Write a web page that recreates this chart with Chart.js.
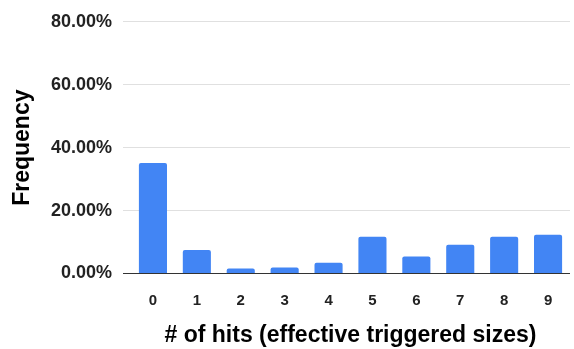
<!DOCTYPE html>
<html>
<head>
<meta charset="utf-8">
<script src="https://cdn.jsdelivr.net/npm/chart.js@4.4.1/dist/chart.umd.min.js"></script>
<style>
	html, body { margin: 0; padding: 0; background: #fff; }
	#wrap { width: 574px; height: 349px; }
</style>
</head>
<body>
<div id="wrap"><canvas id="chart" width="574" height="349"></canvas></div>
<script>
'use strict';

// hit counts on the x axis
var hitCounts = ['0', '1', '2', '3', '4', '5', '6', '7', '8', '9'];
// share of runs per hit count
var frequency = [0.351, 0.075, 0.016, 0.019, 0.034, 0.117, 0.054, 0.091, 0.117, 0.123];
// y axis ticks
var yTicks = [0, 0.2, 0.4, 0.6, 0.8];

var FONT = '"Liberation Sans", Arial, sans-serif',
	BAR = '#4285f4',
	GRID = '#e0e0e0',
	BASE = '#333333';

new Chart(document.getElementById('chart'), {
	type: 'bar',
	data: {
		labels: hitCounts,
		datasets: [{
			data: frequency,
			backgroundColor: BAR,
			borderRadius: 2,
			borderSkipped: 'bottom',
			barPercentage: 0.64,
			categoryPercentage: 1
		}]
	},
	options: {
		responsive: false,
		animation: false,
		layout: {
			padding: { top: 17, right: 4, bottom: 0, left: 0 }
		},
		plugins: {
			legend: { display: false },
			tooltip: { enabled: false }
		},
		scales: {
			x: {
				grid: { display: false },
				border: { display: false },
				ticks: {
					color: '#222',
					padding: 10,
					font: { family: FONT, size: 15, weight: 'bold' }
				},
				title: {
					display: true,
					text: '# of hits (effective triggered sizes)',
					color: '#000',
					padding: { top: 0, bottom: 0 },
					font: { family: FONT, size: 23, weight: 'bold' }
				},
				afterFit: function (scale) {
					scale.height = 75.5;
				}
			},
			y: {
				min: 0,
				max: 0.8,
				afterBuildTicks: function (scale) {
					scale.ticks = yTicks.map(function (v) {
						return { value: v };
					});
				},
				grid: {
					color: function (ctx) {
						return ctx.tick && ctx.tick.value === 0 ? BASE : GRID;
					},
					lineWidth: 1,
					drawTicks: true,
					tickLength: 8
				},
				border: { display: false },
				ticks: {
					color: '#222',
					padding: 11,
					font: { family: FONT, size: 18, weight: 'bold' },
					callback: function (v) {
						return (v * 100).toFixed(2) + '%';
					}
				},
				title: {
					display: true,
					text: 'Frequency',
					color: '#000',
					padding: { top: 9, bottom: 0 },
					font: { family: FONT, size: 23, weight: 'bold' }
				},
				afterFit: function (scale) {
					scale.width = 131;
				}
			}
		}
	}
});
</script>
</body>
</html>
